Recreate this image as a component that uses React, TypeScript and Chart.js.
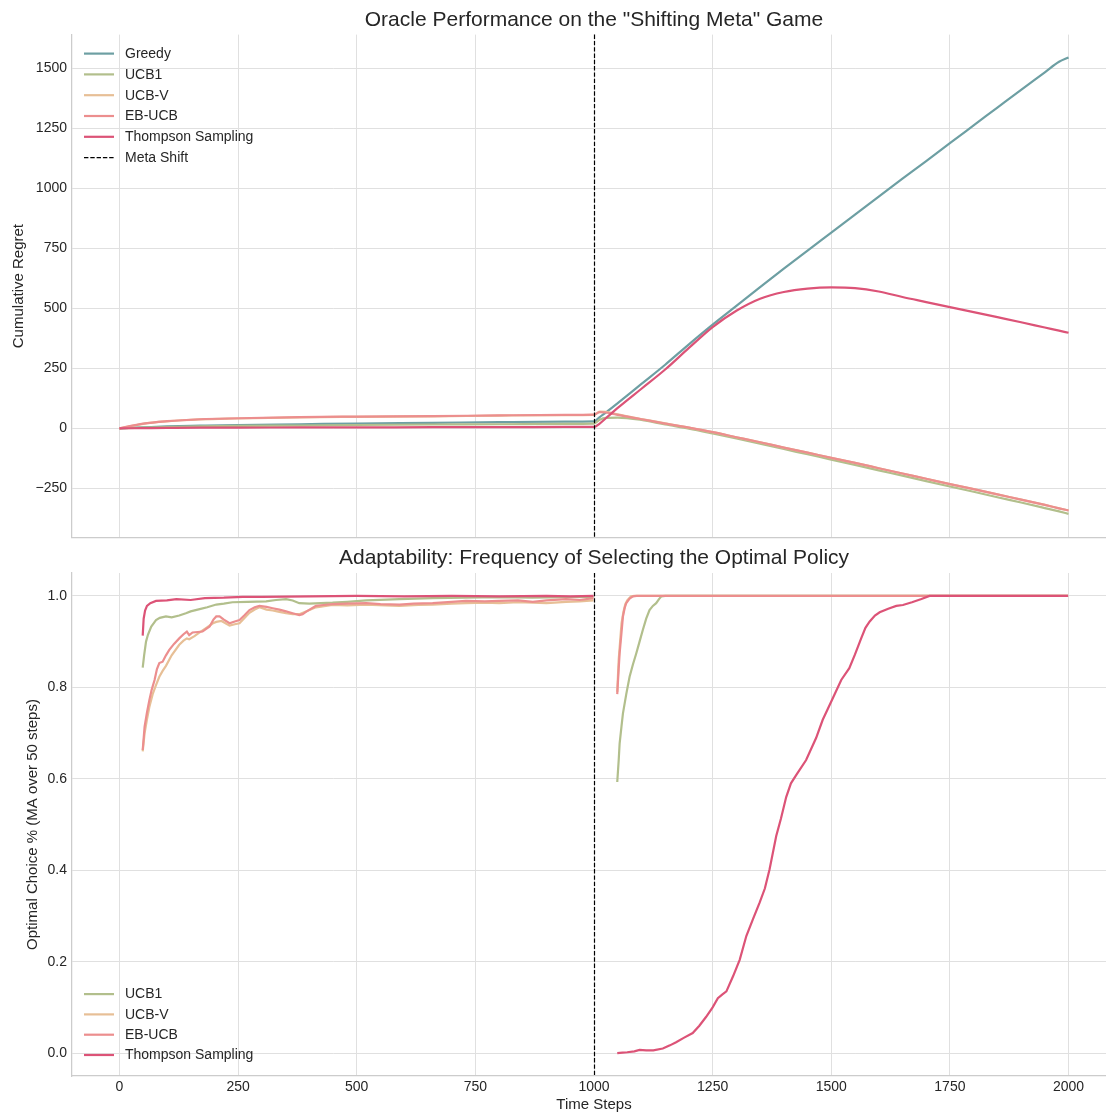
import React, { useEffect, useRef } from "react";
import { Chart, registerables } from "chart.js";
Chart.register(...registerables);

// ---------------- DATA ----------------
const META_SHIFT = 1000;
const X_TICKS = [0, 250, 500, 750, 1000, 1250, 1500, 1750, 2000];
const REGRET_TICKS = [-250, 0, 250, 500, 750, 1000, 1250, 1500];
const OPT_TICKS = [0, 0.2, 0.4, 0.6, 0.8, 1.0];

const SERIES_NAMES = ["Greedy", "UCB1", "UCB-V", "EB-UCB", "Thompson Sampling"];
const META_LABEL = "Meta Shift";

const REGRET_STEPS = [0, 50, 100, 170, 250, 380, 500, 660, 800, 940, 1000, 1012, 1025, 1050, 1100, 1150, 1200, 1250, 1300, 1350, 1400, 1450, 1500, 1550, 1600, 1650, 1700, 1750, 1800, 1850, 1900, 1950, 1980, 2000];
const REGRET_GREEDY = [0, 4, 8, 11, 14, 17, 20, 23, 26, 28, 29, 47, 66, 105, 185, 265, 350, 432, 510, 588, 665, 740, 815, 890, 965, 1040, 1113, 1188, 1262, 1336, 1410, 1483, 1527, 1545];
const REGRET_UCB1 = [0, 3, 5, 8, 10, 12, 14, 16, 17, 19, 20, 36, 44, 45, 35, 16, -1, -21, -42, -64, -86, -108, -130, -152, -175, -197, -220, -242, -264, -287, -309, -332, -346, -356];
const REGRET_UCBV = [0, 19, 29, 37, 41, 46, 48, 50, 53, 55, 56, 70, 69, 58, 39, 21, 3, -16, -37, -58, -80, -101, -123, -144, -166, -188, -210, -232, -253, -275, -297, -319, -333, -342];
const REGRET_EBUCB = [0, 20, 30, 38, 42, 47, 49, 51, 54, 56, 57, 68, 66, 56, 38, 20, 3, -16, -37, -58, -80, -101, -123, -144, -166, -188, -210, -232, -253, -275, -297, -319, -333, -342];
const REGRET_TS = [0, 1, 2, 3, 3, 4, 4, 5, 5, 6, 6, 20, 42, 85, 165, 245, 335, 422, 490, 540, 568, 582, 587, 584, 570, 547, 526, 505, 484, 463, 442, 420, 407, 398];

// Optimal choice moving average: [time step, fraction]
const UCB1_PRE = [[49, 0.843], [52, 0.87], [56, 0.9], [60, 0.915], [67, 0.933], [72, 0.94], [77, 0.947], [85, 0.952], [98, 0.955], [110, 0.953], [126, 0.957], [140, 0.962], [150, 0.966], [169, 0.971], [185, 0.975], [204, 0.981], [220, 0.983], [238, 0.986], [270, 0.987], [309, 0.988], [330, 0.991], [351, 0.993], [365, 0.99], [379, 0.984], [400, 0.983], [449, 0.985], [480, 0.987], [520, 0.99], [590, 0.993], [660, 0.995], [730, 0.996], [800, 0.997], [870, 0.996], [940, 0.997], [999, 0.998]];
const UCB1_POST = [[1049, 0.593], [1052, 0.64], [1054, 0.677], [1058, 0.715], [1061, 0.743], [1068, 0.785], [1075, 0.823], [1082, 0.85], [1089, 0.874], [1096, 0.9], [1103, 0.926], [1110, 0.95], [1117, 0.969], [1124, 0.978], [1131, 0.984], [1137, 0.993], [1142, 0.999], [1150, 1.0], [1500, 1.0], [1999, 1.0]];
const UCBV_PRE = [[49, 0.66], [53, 0.7], [58, 0.73], [63, 0.757], [70, 0.785], [77, 0.805], [84, 0.823], [91, 0.836], [98, 0.847], [110, 0.87], [126, 0.893], [135, 0.902], [142, 0.907], [147, 0.905], [158, 0.912], [169, 0.92], [183, 0.93], [197, 0.94], [204, 0.943], [215, 0.945], [232, 0.935], [243, 0.938], [253, 0.94], [264, 0.952], [274, 0.963], [285, 0.97], [295, 0.975], [310, 0.97], [323, 0.968], [337, 0.965], [351, 0.962], [365, 0.96], [379, 0.96], [393, 0.966], [414, 0.975], [449, 0.98], [480, 0.979], [520, 0.981], [560, 0.979], [590, 0.978], [630, 0.98], [660, 0.981], [700, 0.983], [730, 0.984], [770, 0.985], [800, 0.984], [840, 0.986], [871, 0.985], [900, 0.984], [941, 0.987], [970, 0.988], [999, 0.99]];
const UCBV_POST = [[1049, 0.79], [1052, 0.86], [1055, 0.9], [1058, 0.94], [1062, 0.965], [1066, 0.982], [1070, 0.99], [1078, 0.999], [1085, 1.0], [1500, 1.0], [1999, 1.0]];
const EBUCB_PRE = [[49, 0.663], [53, 0.714], [58, 0.745], [63, 0.772], [68, 0.795], [74, 0.816], [79, 0.84], [84, 0.853], [91, 0.856], [98, 0.87], [105, 0.882], [115, 0.895], [126, 0.907], [135, 0.916], [142, 0.922], [147, 0.914], [154, 0.92], [165, 0.921], [175, 0.922], [190, 0.933], [198, 0.948], [204, 0.955], [211, 0.955], [220, 0.948], [232, 0.94], [243, 0.944], [253, 0.947], [264, 0.958], [274, 0.969], [285, 0.975], [295, 0.978], [310, 0.976], [323, 0.973], [337, 0.97], [351, 0.966], [365, 0.962], [379, 0.958], [386, 0.96], [393, 0.965], [404, 0.972], [414, 0.978], [430, 0.98], [449, 0.982], [480, 0.983], [520, 0.984], [550, 0.982], [590, 0.981], [620, 0.983], [660, 0.984], [700, 0.987], [730, 0.989], [770, 0.988], [800, 0.989], [840, 0.99], [871, 0.987], [900, 0.99], [941, 0.993], [970, 0.991], [999, 0.995]];
const EBUCB_POST = [[1049, 0.785], [1052, 0.84], [1054, 0.874], [1058, 0.92], [1061, 0.955], [1065, 0.975], [1068, 0.984], [1075, 0.994], [1082, 0.999], [1090, 1.0], [1500, 1.0], [1999, 1.0]];
const TS_PRE = [[49, 0.913], [51, 0.95], [54, 0.968], [58, 0.978], [65, 0.984], [77, 0.989], [100, 0.99], [120, 0.993], [150, 0.991], [180, 0.995], [220, 0.996], [260, 0.998], [300, 0.998], [400, 0.999], [500, 1.0], [600, 0.999], [700, 1.0], [800, 0.999], [900, 1.0], [950, 0.999], [999, 1.0]];
const TS_POST = [[1049, 0.0], [1060, 0.001], [1070, 0.002], [1085, 0.004], [1096, 0.007], [1110, 0.006], [1125, 0.006], [1145, 0.01], [1160, 0.017], [1173, 0.024], [1190, 0.034], [1208, 0.044], [1222, 0.06], [1236, 0.079], [1250, 0.1], [1261, 0.12], [1270, 0.128], [1279, 0.135], [1293, 0.168], [1307, 0.204], [1321, 0.256], [1335, 0.293], [1349, 0.329], [1360, 0.36], [1370, 0.402], [1384, 0.475], [1394, 0.513], [1405, 0.56], [1415, 0.59], [1426, 0.608], [1447, 0.641], [1468, 0.689], [1482, 0.729], [1500, 0.769], [1521, 0.816], [1538, 0.842], [1550, 0.872], [1563, 0.907], [1572, 0.93], [1581, 0.944], [1592, 0.957], [1602, 0.964], [1620, 0.972], [1637, 0.978], [1651, 0.98], [1670, 0.986], [1690, 0.993], [1707, 1.0], [1850, 1.0], [1999, 1.0]];

// ---------------- STYLE ----------------
const COLORS = ["#6d9fa3", "#b2bf8c", "#e7bf96", "#ec8e8e", "#dc5377"];
const TEXT = "#262626";
const GRID = "#e0e0e0";
const SPINE = "#cccccc";
const FONT = '"Liberation Sans", Arial, Helvetica, sans-serif';
Chart.defaults.font.family = FONT;
Chart.defaults.color = TEXT;

const CANVAS_W = 1126;
const TOP_H = 551;
const BOT_TOP = 544;
const BOT_H = 570;

type Item = { label: string; color: string; dashed?: boolean };

function legendPlugin(items: Item[], anchor: "top" | "bottom") {
  return {
    id: "customLegend",
    afterDraw(chart: any) {
      const { ctx, chartArea } = chart;
      ctx.save();
      ctx.font = `14px ${FONT}`;
      ctx.textBaseline = "middle";
      items.forEach((it, i) => {
        const y = anchor === "top"
          ? chartArea.top + 19 + i * 20.8
          : chartArea.bottom - 21 - (items.length - 1 - i) * 20.3;
        const x0 = chartArea.left + 12;
        ctx.beginPath();
        ctx.strokeStyle = it.color;
        ctx.lineWidth = it.dashed ? 1.2 : 2.2;
        ctx.setLineDash(it.dashed ? [4.4, 1.9] : []);
        ctx.moveTo(x0, y);
        ctx.lineTo(x0 + 30, y);
        ctx.stroke();
        ctx.setLineDash([]);
        ctx.fillStyle = TEXT;
        ctx.fillText(it.label, x0 + 41, y + 0.5);
      });
      ctx.restore();
    },
  };
}

const metaLinePlugin = {
  id: "metaLine",
  afterDatasetsDraw(chart: any) {
    const { ctx, chartArea, scales } = chart;
    const x = Math.round(scales.x.getPixelForValue(META_SHIFT)) + 0.5;
    ctx.save();
    ctx.beginPath();
    ctx.strokeStyle = "#000000";
    ctx.lineWidth = 1.2;
    ctx.setLineDash([4.4, 1.9]);
    ctx.moveTo(x, chartArea.top);
    ctx.lineTo(x, chartArea.bottom);
    ctx.stroke();
    ctx.restore();
  },
};

function pts(steps: number[], vals: number[]) {
  return steps.map((t, i) => ({ x: t, y: vals[i] }));
}
function seg(pre: number[][], post: number[][]) {
  return [
    ...pre.map(([x, y]) => ({ x, y })),
    { x: (pre[pre.length - 1][0] + post[0][0]) / 2, y: null },
    ...post.map(([x, y]) => ({ x, y })),
  ];
}

function xScale(showTicks: boolean) {
  return {
    type: "linear",
    min: -100,
    max: 2100,
    afterBuildTicks: (s: any) => { s.ticks = X_TICKS.map((v) => ({ value: v })); },
    afterFit: (s: any) => { s.height = showTicks ? 38 : 8; },
    ticks: {
      display: showTicks,
      padding: 3,
      color: TEXT,
      font: { size: 14 },
      maxRotation: 0,
      callback: (v: any) => String(v),
    },
    grid: { color: GRID, lineWidth: 1, drawTicks: false },
    border: { display: true, color: SPINE, width: 1.25 },
    title: {
      display: showTicks,
      text: "Time Steps",
      color: TEXT,
      font: { size: 15 },
      padding: { top: 0, bottom: 0 },
    },
  };
}

function yScale(min: number, max: number, ticks: number[], fmt: (v: number) => string, title: string, titlePad: number) {
  return {
    type: "linear",
    min,
    max,
    afterBuildTicks: (s: any) => { s.ticks = ticks.map((v) => ({ value: v })); },
    afterFit: (s: any) => { s.width = 72; },
    ticks: { padding: 5, color: TEXT, font: { size: 14 }, callback: (v: any) => fmt(Number(v)) },
    grid: { color: GRID, lineWidth: 1, drawTicks: false },
    border: { display: true, color: SPINE, width: 1.25 },
    title: {
      display: true,
      text: title,
      color: TEXT,
      font: { size: 15 },
      padding: { top: titlePad, bottom: 0 },
    },
  };
}

function lineDs(label: string, data: any[], color: string, idx: number, smooth: boolean) {
  return {
    label,
    data,
    borderColor: color,
    backgroundColor: color,
    borderWidth: 2.2,
    pointRadius: 0,
    fill: false,
    spanGaps: false,
    tension: 0,
    cubicInterpolationMode: smooth ? "monotone" : "default",
    order: -idx,
  };
}

export default function App() {
  const topRef = useRef<HTMLCanvasElement>(null);
  const botRef = useRef<HTMLCanvasElement>(null);

  useEffect(() => {
    const topSeries = [REGRET_GREEDY, REGRET_UCB1, REGRET_UCBV, REGRET_EBUCB, REGRET_TS];
    const topChart = new Chart(topRef.current as HTMLCanvasElement, {
      type: "line",
      data: {
        datasets: topSeries.map((vals, i) =>
          lineDs(SERIES_NAMES[i], pts(REGRET_STEPS, vals), COLORS[i], i, true)
        ) as any,
      },
      options: {
        responsive: false,
        animation: false,
        layout: { padding: { left: 0, right: 10, top: 0, bottom: 0 } },
        plugins: {
          legend: { display: false },
          tooltip: { enabled: false },
          title: {
            display: true,
            text: 'Oracle Performance on the "Shifting Meta" Game',
            color: TEXT,
            font: { size: 21, weight: "normal", lineHeight: 1.2 },
            padding: { top: 7.6, bottom: 1.8 },
            fullSize: false,
          },
        },
        scales: {
          x: xScale(false) as any,
          y: yScale(-455, 1640, REGRET_TICKS, (v) => (v < 0 ? "\u2212" + Math.abs(v) : String(v)), "Cumulative Regret", 10) as any,
        },
      },
      plugins: [
        metaLinePlugin,
        legendPlugin(
          [
            ...SERIES_NAMES.map((n, i) => ({ label: n, color: COLORS[i] })),
            { label: META_LABEL, color: "#000000", dashed: true },
          ],
          "top"
        ),
      ],
    });

    const botSeries = [
      seg(UCB1_PRE, UCB1_POST),
      seg(UCBV_PRE, UCBV_POST),
      seg(EBUCB_PRE, EBUCB_POST),
      seg(TS_PRE, TS_POST),
    ];
    const botChart = new Chart(botRef.current as HTMLCanvasElement, {
      type: "line",
      data: {
        datasets: botSeries.map((d, i) => lineDs(SERIES_NAMES[i + 1], d, COLORS[i + 1], i, false)) as any,
      },
      options: {
        responsive: false,
        animation: false,
        layout: { padding: { left: 0, right: 10, top: 0, bottom: 0 } },
        plugins: {
          legend: { display: false },
          tooltip: { enabled: false },
          title: {
            display: true,
            text: "Adaptability: Frequency of Selecting the Optimal Policy",
            color: TEXT,
            font: { size: 21, weight: "normal", lineHeight: 1.2 },
            padding: { top: 1.4, bottom: 2.4 },
            fullSize: false,
          },
        },
        scales: {
          x: xScale(true) as any,
          y: yScale(-0.05, 1.05, OPT_TICKS, (v) => v.toFixed(1), "Optimal Choice % (MA over 50 steps)", 24) as any,
        },
      },
      plugins: [
        metaLinePlugin,
        legendPlugin(
          SERIES_NAMES.slice(1).map((n, i) => ({ label: n, color: COLORS[i + 1] })),
          "bottom"
        ),
      ],
    });

    return () => {
      topChart.destroy();
      botChart.destroy();
    };
  }, []);

  return (
    <div
      style={{
        position: "absolute",
        left: 0,
        top: 0,
        width: 1106,
        height: 1114,
        overflow: "hidden",
        background: "#ffffff",
      }}
    >
      <canvas
        ref={topRef}
        width={CANVAS_W}
        height={TOP_H}
        style={{ position: "absolute", left: 0, top: 0, width: CANVAS_W, height: TOP_H }}
      />
      <canvas
        ref={botRef}
        width={CANVAS_W}
        height={BOT_H}
        style={{ position: "absolute", left: 0, top: BOT_TOP, width: CANVAS_W, height: BOT_H }}
      />
    </div>
  );
}
